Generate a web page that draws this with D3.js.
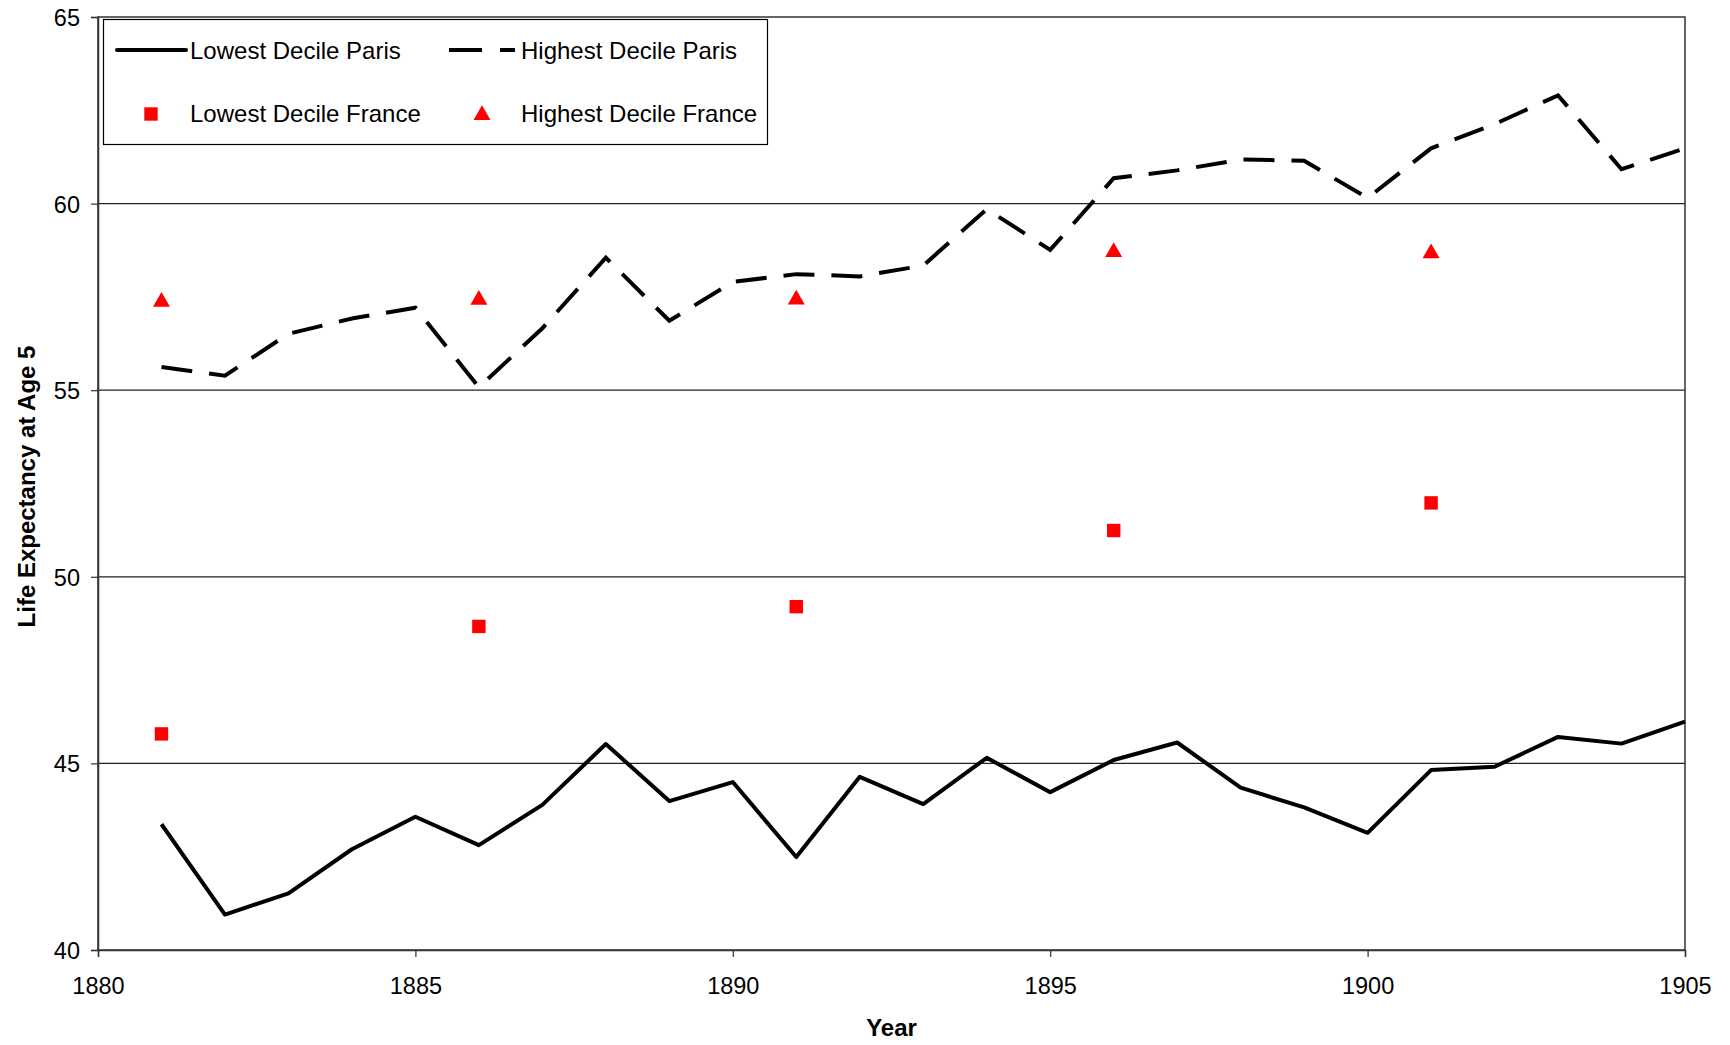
<!DOCTYPE html>
<html>
<head>
<meta charset="utf-8">
<script src="https://cdn.jsdelivr.net/npm/d3@7"></script>
<style>
  body { margin: 0; background: #fff; }
  svg { display: block; font-family: "Liberation Sans", Arial, sans-serif; }
</style>
</head>
<body>
<svg id="chart" width="1730" height="1045"></svg>
<script>
// data
const years      = d3.range(1881, 1906);
const lowParis   = [43.37, 40.95, 41.52, 42.70, 43.57, 42.81, 43.89, 45.52, 43.99, 44.50,
                    42.49, 44.64, 43.91, 45.15, 44.23, 45.09, 45.56, 44.35, 43.82, 43.14,
                    44.82, 44.91, 45.71, 45.53, 46.12];
const highParis  = [55.62, 55.39, 56.51, 56.92, 57.21, 55.08, 56.66, 58.55, 56.86, 57.90,
                    58.11, 58.05, 58.34, 59.85, 58.76, 60.68, 60.89, 61.18, 61.15, 60.15,
                    61.48, 62.13, 62.90, 60.92, 61.48];
const franceYears = [1881, 1886, 1891, 1896, 1901];
const lowFrance   = [45.79, 48.67, 49.20, 51.24, 51.98];
const highFrance  = [57.37, 57.42, 57.43, 58.70, 58.67];
const xTicks = [1880, 1885, 1890, 1895, 1900, 1905];
const yTicks = [40, 45, 50, 55, 60, 65];

const svg = d3.select("#chart");
const x = d3.scaleLinear().domain([1880, 1905]).range([98, 1685]);
const y = d3.scaleLinear().domain([40, 65]).range([950, 17]);

// gridlines
svg.append("g")
  .selectAll("line")
  .data(yTicks.filter(d => d > 40 && d < 65))
  .join("line")
  .attr("x1", x(1880)).attr("x2", x(1905))
  .attr("y1", d => y(d)).attr("y2", d => y(d))
  .attr("stroke", "#222").attr("stroke-width", 1.2);

// frame
svg.append("rect")
  .attr("x", x(1880)).attr("y", y(65))
  .attr("width", x(1905) - x(1880)).attr("height", y(40) - y(65))
  .attr("fill", "none").attr("stroke", "#333").attr("stroke-width", 1.5);

// axes
const xAxis = svg.append("g")
  .attr("transform", `translate(0,${y(40)})`)
  .call(d3.axisBottom(x).tickValues(xTicks).tickFormat(d3.format("d")).tickSize(7).tickPadding(20));
const yAxis = svg.append("g")
  .attr("transform", `translate(${x(1880)},0)`)
  .call(d3.axisLeft(y).tickValues(yTicks).tickSize(7).tickPadding(11));
[xAxis, yAxis].forEach(a => {
  a.select(".domain").attr("stroke", "#333").attr("stroke-width", 1.5);
  a.selectAll(".tick line").attr("stroke", "#333").attr("stroke-width", 1.2);
  a.selectAll("text")
    .attr("fill", "#000")
    .style("font-size", "23.5px")
    .style("font-family", "'Liberation Sans', Arial, sans-serif");
});
yAxis.selectAll("text").attr("dy", "0.36em");

// axis titles
svg.append("text")
  .attr("x", x(1892.5)).attr("y", 1036)
  .attr("text-anchor", "middle")
  .style("font-size", "24px").style("font-weight", "bold")
  .text("Year");
svg.append("text")
  .attr("transform", `translate(35,${(y(40) + y(65)) / 2 + 3}) rotate(-90)`)
  .attr("text-anchor", "middle")
  .style("font-size", "24px").style("font-weight", "bold")
  .text("Life Expectancy at Age 5");

// lines
const line = d3.line().x((d, i) => x(years[i])).y(d => y(d));
svg.append("path")
  .datum(lowParis)
  .attr("d", line)
  .attr("fill", "none").attr("stroke", "#000").attr("stroke-width", 4)
  .attr("stroke-linejoin", "round");
svg.append("path")
  .datum(highParis)
  .attr("d", line)
  .attr("fill", "none").attr("stroke", "#000").attr("stroke-width", 4)
  .attr("stroke-dasharray", "31,17");

// France markers
const square   = d3.symbol().type(d3.symbolSquare).size(180);
const triangle = d3.symbol().type(d3.symbolTriangle).size(125);
svg.append("g")
  .selectAll("path")
  .data(lowFrance)
  .join("path")
  .attr("transform", (d, i) => `translate(${x(franceYears[i])},${y(d)})`)
  .attr("d", square)
  .attr("fill", "#ff0000");
svg.append("g")
  .selectAll("path")
  .data(highFrance)
  .join("path")
  .attr("transform", (d, i) => `translate(${x(franceYears[i])},${y(d)})`)
  .attr("d", triangle)
  .attr("fill", "#ff0000");

// legend
const legend = svg.append("g");
legend.append("rect")
  .attr("x", 103.5).attr("y", 19.5).attr("width", 664).attr("height", 125)
  .attr("fill", "#fff").attr("stroke", "#000").attr("stroke-width", 1.2);
legend.append("line")
  .attr("x1", 117).attr("x2", 186).attr("y1", 50).attr("y2", 50)
  .attr("stroke", "#000").attr("stroke-width", 4).attr("stroke-linecap", "round");
legend.append("line")
  .attr("x1", 449).attr("x2", 515).attr("y1", 50).attr("y2", 50)
  .attr("stroke", "#000").attr("stroke-width", 4).attr("stroke-dasharray", "33,18");
legend.append("path")
  .attr("transform", "translate(151,114)")
  .attr("d", square).attr("fill", "#ff0000");
legend.append("path")
  .attr("transform", "translate(482,115)")
  .attr("d", triangle).attr("fill", "#ff0000");
const legendLabels = [
  ["Lowest Decile Paris", 190, 58.5],
  ["Highest Decile Paris", 521, 58.5],
  ["Lowest Decile France", 190, 121.5],
  ["Highest Decile France", 521, 121.5]
];
legend.selectAll("text.lbl")
  .data(legendLabels)
  .join("text")
  .attr("class", "lbl")
  .attr("x", d => d[1]).attr("y", d => d[2])
  .style("font-size", "24px")
  .text(d => d[0]);
</script>
</body>
</html>
